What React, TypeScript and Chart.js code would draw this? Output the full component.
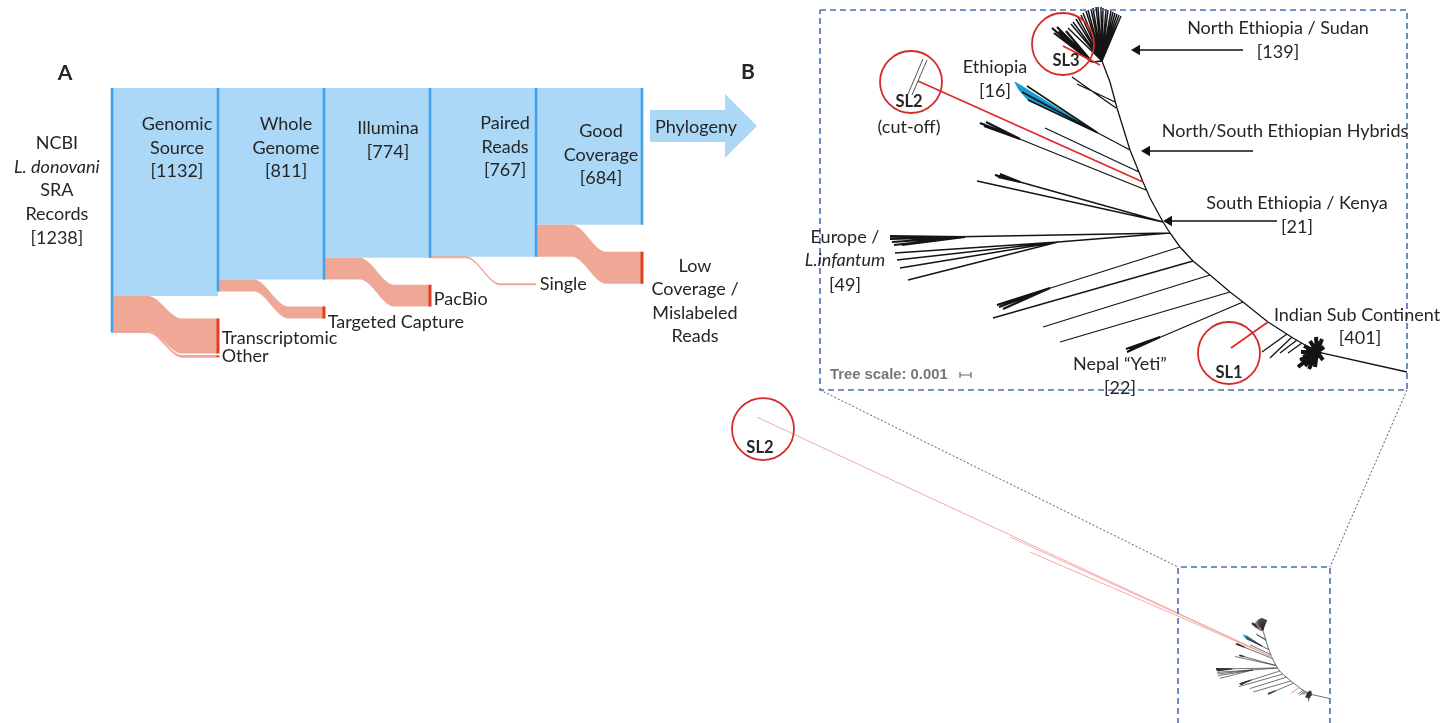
import React, { useEffect, useRef } from 'react';
import Chart from 'chart.js/auto';

const W = 1443;
const H = 723;

// ================= Panel A : record filtering (Sankey) =================
const stageNames: string[][] = [
  ['NCBI', 'L. donovani', 'SRA', 'Records'],
  ['Genomic', 'Source'],
  ['Whole', 'Genome'],
  ['Illumina'],
  ['Paired', 'Reads'],
  ['Good', 'Coverage'],
];
const stageCounts = [1238, 1132, 811, 774, 767, 684];
// band widths as drawn in the figure (records)
const keptBand = [1040, 958, 849, 844, 684];
const lossNames = ['Transcriptomic', 'Other', 'Targeted Capture', 'PacBio', 'Single', 'Low\nCoverage /\nMislabeled\nReads'];
const lossFrom = [0, 0, 1, 2, 3, 4];
const lossBand = [175, 8, 60, 108, 5, 160];

// ================= Panel B : phylogeny (units ~1e-4 subst./site, y up) =================
const trunk = [[-68, 172], [-60, 151], [-53, 125], [-40, 83], [-27, 51], [-20, 35], [-7, 11], [0, 0], [10, -14], [23, -28], [40, -42], [60, -59], [73, -69], [98, -89], [123, -105], [147, -119], [237, -139]];
const nEthNode = [-68, 172];
const nEthTips = [[-102, 205], [-99, 209], [-97, 211], [-94, 214], [-92, 216], [-89, 218], [-87, 220], [-84, 222], [-82, 223], [-79, 224], [-77, 225], [-74, 226], [-72, 226], [-69, 226], [-67, 225], [-64, 224], [-62, 223], [-59, 222], [-57, 221], [-55, 220], [-53, 219], [-51, 218], [-49, 217]];
const sl3Node = [-78, 171];
const sl3Tips = [[-118, 205], [-116, 200], [-113, 206], [-109, 197], [-104, 202], [-111, 202], [-106, 195]];
const sl3Branch = [[-70, 168], [-107, 187]];
const ladder = [[[-54, 125], [-98, 156]], [[-55, 131], [-93, 149]]];
const ethAttach = [-40, 83];
const ethNode = [-72, 100];
const ethBlue = [[-72, 100], [-155, 151], [-151, 143], [-142, 133], [-72, 100]];
const ethTips = [[-143, 147], [-142, 133], [-148, 141]];
const branches = [
  [[-31, 61], [-125, 105]],
  [[-24, 43], [-190, 110]],
  [[-7, 11], [-193, 52]],
  [[-7, 11], [-175, 58]],
  [[0, 0], [-280, -5]],
  [[0, 0], [-112, -9]],
  [[-112, -9], [-275, -20]], [[-112, -9], [-273, -27]], [[-112, -9], [-270, -35]], [[-112, -9], [-262, -47]],
  [[10, -14], [-173, -72]],
  [[23, -28], [-177, -85]],
  [[40, -42], [-127, -94]],
  [[60, -59], [-110, -109]],
  [[73, -69], [-42, -118]],
  [[117, -101], [92, -119]], [[122, -104], [100, -125]], [[127, -107], [110, -120]], [[132, -110], [118, -120]],
];
const tipClusters = [
  { node: [-205, -4], tips: [[-280, -3], [-280, -6], [-278, -9], [-276, -12], [-268, -12]] },
  { node: [-150, 94], tips: [[-190, 110], [-186, 107], [-184, 111]] },
  { node: [-150, 51], tips: [[-175, 58], [-172, 56], [-170, 59]] },
  { node: [-120, -55], tips: [[-171, -74], [-167, -76], [-173, -72]] },
  { node: [-10, -104], tips: [[-43, -119], [-40, -116], [-44, -116]] },
];
const indianNode = [147, -119];
const indianTips = [[130, -127], [128, -134], [135, -133], [140, -108], [146, -104], [152, -106], [134, -113], [131, -119], [139, -136], [153, -127], [143, -130], [150, -113], [133, -124], [137, -128], [142, -111], [148, -108], [154, -114], [136, -118], [145, -134], [151, -121]];
const sl1Branch = [[98, -89], [61, -115]];
const sl2Attach = [-27, 51];
const sl2Cut = [-252, 152];
const sl2Tips = [[-2366, 1140], [-1216, 595], [-1125, 527]];
const cladeSizes = { nEth: 139, eth: 16, sEth: 21, europe: 49, nepal: 22, indian: 401 };

// ================= layout (pixels / frames) =================
const SK = { x0: 112, step: 106, y0: 88, k: 0.2, gap: 135, spacing: 10, flat: 0.34, lineStep: 119 };
const TR = { ox: 1170, oy: 233, k: 1 };
const IN = { ox: 1277.6, oy: 667.96, k: 0.22 };
const stageLabelAt = [[-0.52, 275], [0.613, 180], [1.642, 180], [2.604, 200], [3.708, 175], [4.613, 215]];
const lossLabelShift = [10, 0, 48, 17, 0];
const lowCovLabelAt = [5.5, 890];

const C = {
  blueFill: '#abd8f7', blueLine: '#43a2ea', pink: '#f0a896', pinkLine: '#ee9884', red: '#e0401e',
  ink: '#262626', tree: '#141414', treeRed: '#e5262a', treeBlue: '#1b9ad6', circle: '#d42b2b', box: '#4a70ac',
};

type P = { x: number; y: number };
const NANP = () => ({ x: NaN, y: NaN });
function poly(list: number[][][]): P[] {
  const out: P[] = [];
  list.forEach((ln, i) => {
    if (i) out.push(NANP());
    ln.forEach((p) => out.push({ x: p[0], y: p[1] }));
  });
  return out;
}
const fan = (node: number[], tips: number[][]) => tips.map((t) => [node, t]);

const nodeH = stageCounts.map((_, s) => {
  const inflow = s < keptBand.length ? keptBand[s] : keptBand[keptBand.length - 1];
  return inflow + lossBand.reduce((a, v, i) => a + (lossFrom[i] === s ? v : 0), 0);
});
const lossGeo = lossBand.map((v, i) => {
  const s = lossFrom[i];
  let y0 = keptBand[s];
  let y1 = nodeH[s + 1] + SK.gap;
  for (let j = 0; j < i; j++) if (lossFrom[j] === s) { y0 += lossBand[j]; y1 += lossBand[j] + SK.spacing; }
  return { s, v, y0, y1 };
});
const bandLine = (s: number, a: number, b: number): P[] => [
  { x: s, y: a }, { x: s + SK.flat, y: a }, { x: s + 1 - SK.flat, y: b }, { x: s + 1, y: b },
];

function lineDs(xid: string, yid: string, data: P[], color: string, width: number, order: number, extra: any = {}) {
  return {
    type: 'line', xAxisID: xid, yAxisID: yid, data, borderColor: color, borderWidth: width,
    pointRadius: 0, pointHoverRadius: 0, fill: false, tension: 0, order, spanGaps: false, clip: false, ...extra,
  };
}

function sankeySets(): any[] {
  const sets: any[] = [];
  keptBand.forEach((v, s) => {
    sets.push(lineDs('xs', 'ys', [{ x: s, y: 0 }, { x: s + 1, y: 0 }], C.blueFill, 0, 30, { fill: '+1', backgroundColor: C.blueFill }));
    sets.push(lineDs('xs', 'ys', [{ x: s, y: v }, { x: s + 1, y: v }], C.blueFill, 0, 30));
  });
  lossGeo.forEach((g) => {
    const thin = g.v < 20;
    const ex = { cubicInterpolationMode: 'monotone' };
    sets.push(lineDs('xs', 'ys', bandLine(g.s, g.y0, g.y1), C.pinkLine, thin ? 0.8 : 0, 25, { ...ex, fill: '+1', backgroundColor: C.pink }));
    sets.push(lineDs('xs', 'ys', bandLine(g.s, g.y0 + g.v, g.y1 + g.v), C.pinkLine, thin ? 0.8 : 0, 25, ex));
  });
  sets.push(lineDs('xs', 'ys', poly(nodeH.map((h, s) => [[s, 0], [s, h]])), C.blueLine, 2.6, 20));
  sets.push(lineDs('xs', 'ys', poly(lossGeo.filter((g) => g.v > 6).map((g) => [[g.s + 1, g.y1], [g.s + 1, g.y1 + g.v]])), C.red, 3, 20));
  const arrow = [[5.075, 110], [5.783, 110], [5.783, 30], [6.085, 190], [5.783, 350], [5.783, 270], [5.075, 270], [5.075, 110]];
  sets.push(lineDs('xs', 'ys', poly([arrow]), C.blueFill, 0, 30, { fill: 'shape', backgroundColor: C.blueFill }));
  return sets;
}

function treeSets(xid: string, yid: string, inset: boolean): any[] {
  const w = inset ? { n: 0.7, f: 0.8, t: 1.1, b: 2.0, r: 0.9 } : { n: 1.3, f: 1.5, t: 2.2, b: 4, r: 1.8 };
  const ink = inset ? '#333' : C.tree;
  const sets: any[] = [];
  sets.push(lineDs(xid, yid, poly([ethBlue]), C.treeBlue, 1, 16, { fill: 'shape', backgroundColor: C.treeBlue }));
  const normal = [trunk, ...ladder, [ethAttach, ethNode], [nEthNode, sl3Node], ...branches];
  sets.push(lineDs(xid, yid, poly(normal), ink, w.n, 12));
  sets.push(lineDs(xid, yid, poly([...fan(nEthNode, nEthTips), ...fan(ethNode, ethTips)]), ink, w.f, 12));
  sets.push(lineDs(xid, yid, poly([...fan(sl3Node, sl3Tips), ...tipClusters.flatMap((c) => fan(c.node, c.tips))]), ink, w.t, 11));
  sets.push(lineDs(xid, yid, poly(fan(indianNode, indianTips)), ink, w.b, 11));
  if (inset) {
    sets.push(lineDs(xid, yid, poly(fan(sl2Attach, sl2Tips)), '#f2a0a0', w.r, 10));
    sets.push(lineDs(xid, yid, poly([sl3Branch, sl1Branch]), '#ee8080', w.r, 10));
  } else {
    sets.push(lineDs(xid, yid, poly([[sl2Attach, sl2Cut], sl3Branch, sl1Branch]), C.treeRed, w.r, 10));
  }
  return sets;
}

function annotationSets(): any[] {
  const sets: any[] = [];
  sets.push(lineDs('xt', 'yt', poly([[[-350, 223], [237, 223], [237, -157], [-350, -157], [-350, 223]]]), C.box, 1.6, 8, { borderDash: [6, 4] }));
  sets.push(lineDs('xi', 'yi', poly([[[-452.7, -300], [-452.7, 459], [238, 459], [238, -300]]]), C.box, 1.6, 8, { borderDash: [6, 4] }));
  sets.push(lineDs('xt', 'yt', poly([[[-350, -157], [8, -334]], [[237, -157], [160, -334]]]), '#5a5a5a', 1, 8, { borderDash: [2, 2] }));
  sets.push(lineDs('xt', 'yt', poly([[[-262, 139], [-247, 174]], [[-258, 138], [-243, 173]]]), '#555', 1, 6));
  sets.push(lineDs('xt', 'yt', poly([[[-210, -142], [-199, -142]], [[-210, -139], [-210, -145]], [[-199, -139], [-199, -145]]]), '#666', 1.2, 6));
  sets.push(lineDs('xt', 'yt', poly([[[73, 183], [-36, 183]], [[83, 82], [-26, 82]], [[107, 12], [-4, 12]]]), '#111', 1.5, 5));
  sets.push({
    type: 'scatter', xAxisID: 'xt', yAxisID: 'yt', order: 4, clip: false,
    data: [{ x: -33, y: 183 }, { x: -23, y: 82 }, { x: -1, y: 12 }],
    pointStyle: 'triangle', pointRotation: -90, pointRadius: 6, pointHoverRadius: 6,
    pointBackgroundColor: '#111', pointBorderColor: '#111', pointBorderWidth: 0,
  });
  const circ = (xid: string, yid: string, pts: number[][]) => ({
    type: 'scatter', xAxisID: xid, yAxisID: yid, order: 3, clip: false,
    data: pts.map((p) => ({ x: p[0], y: p[1] })),
    pointStyle: 'circle', pointRadius: 31, pointHoverRadius: 31,
    pointBackgroundColor: 'rgba(0,0,0,0)', pointBorderColor: C.circle, pointBorderWidth: 1.8,
  });
  sets.push(circ('xt', 'yt', [[-107, 189], [-259, 151], [59, -120]]));
  sets.push(circ('xi', 'yi', [[-2339, 1086]]));
  return sets;
}

type Lbl = { t: string; f: 's' | 't' | 'i'; x: number; y: number; font?: string; color?: string; align?: CanvasTextAlign };
const F = '18px Lato';
const FI = 'italic 18px Lato';
const FB = 'bold 16.5px Lato';

function buildLabels(): Lbl[] {
  const L: Lbl[] = [];
  L.push({ t: 'A', f: 's', x: -0.443, y: -75, font: 'bold 21px Lato' });
  stageNames.forEach((names, s) => {
    const [x, y] = stageLabelAt[s];
    const lines = [...names, `[${stageCounts[s]}]`];
    lines.forEach((t, i) => L.push({ t, f: 's', x, y: y + i * SK.lineStep, font: s === 0 && i === 1 ? FI : F }));
  });
  lossGeo.forEach((g, i) => {
    if (i === lossGeo.length - 1) {
      lossNames[i].split('\n').forEach((t, j) => L.push({ t, f: 's', x: lowCovLabelAt[0], y: lowCovLabelAt[1] + j * 117.5, font: F }));
    } else {
      L.push({ t: lossNames[i], f: 's', x: g.s + 1 + 0.035, y: g.y1 + g.v / 2 + lossLabelShift[i], font: F, align: 'left' });
    }
  });
  L.push({ t: 'Phylogeny', f: 's', x: 5.51, y: 195, font: F });

  L.push({ t: 'B', f: 't', x: -422, y: 161, font: 'bold 21px Lato' });
  const tl: [string, number, number, string?][] = [
    ['North Ethiopia / Sudan', 108, 205], [`[${cladeSizes.nEth}]`, 108, 181],
    ['Ethiopia', -175, 166], [`[${cladeSizes.eth}]`, -175, 142],
    ['North/South Ethiopian Hybrids', 115, 102],
    ['South Ethiopia / Kenya', 127, 30], [`[${cladeSizes.sEth}]`, 127, 6],
    ['Europe /', -325, -4], ['L.infantum', -325, -27, FI], [`[${cladeSizes.europe}]`, -325, -52],
    ['Nepal \u201CYeti\u201D', -50, -131], [`[${cladeSizes.nepal}]`, -50, -155],
    ['Indian Sub Continent', 187, -82], [`[${cladeSizes.indian}]`, 190, -105],
    ['SL3', -104, 172, FB], ['SL2', -261, 131, FB], ['(cut-off)', -261, 106], ['SL1', 59, -140, FB],
  ];
  tl.forEach(([t, x, y, font]) => L.push({ t, f: 't', x, y, font: font || F }));
  L.push({ t: 'Tree scale: 0.001', f: 't', x: -340, y: -142, font: 'bold 14.8px "Liberation Sans"', color: '#777', align: 'left' });
  L.push({ t: 'SL2', f: 'i', x: -2353, y: 1000, font: FB });
  return L;
}
const labels = buildLabels();
const frames: Record<string, [string, string]> = { s: ['xs', 'ys'], t: ['xt', 'yt'], i: ['xi', 'yi'] };

const textPlugin = {
  id: 'figureText',
  afterDatasetsDraw(chart: any) {
    const ctx = chart.ctx as CanvasRenderingContext2D;
    labels.forEach((l) => {
      const [xid, yid] = frames[l.f];
      const px = chart.scales[xid].getPixelForValue(l.x);
      const py = chart.scales[yid].getPixelForValue(l.y);
      ctx.save();
      ctx.font = l.font || F;
      ctx.fillStyle = l.color || C.ink;
      ctx.textAlign = l.align || 'center';
      ctx.textBaseline = 'middle';
      ctx.fillText(l.t, px, py);
      ctx.restore();
    });
  },
};

const hidden = (min: number, max: number, extra: any = {}) => ({
  type: 'linear', display: false, bounds: 'data', offset: false, beginAtZero: false, min, max, ...extra,
});

export default function App() {
  const ref = useRef<HTMLCanvasElement>(null);
  useEffect(() => {
    document.body.style.margin = '0';
    const chart = new Chart(ref.current as HTMLCanvasElement, {
      type: 'scatter',
      data: { datasets: [...sankeySets(), ...treeSets('xt', 'yt', false), ...treeSets('xi', 'yi', true), ...annotationSets()] as any },
      options: {
        responsive: false,
        animation: false,
        devicePixelRatio: 1,
        events: [],
        layout: { padding: 0, autoPadding: false },
        plugins: { legend: { display: false }, tooltip: { enabled: false }, title: { display: false } },
        scales: {
          xs: hidden(-SK.x0 / SK.step, (W - SK.x0) / SK.step),
          ys: hidden(-SK.y0 / SK.k, (H - SK.y0) / SK.k, { reverse: true }),
          xt: hidden(-TR.ox / TR.k, (W - TR.ox) / TR.k),
          yt: hidden((TR.oy - H) / TR.k, TR.oy / TR.k),
          xi: hidden(-IN.ox / IN.k, (W - IN.ox) / IN.k),
          yi: hidden((IN.oy - H) / IN.k, IN.oy / IN.k),
        } as any,
      } as any,
      plugins: [textPlugin],
    } as any);
    let alive = true;
    const fonts = ['18px Lato', 'italic 18px Lato', 'bold 16.5px Lato', 'bold 14.8px "Liberation Sans"'];
    Promise.all(fonts.map((f) => (document as any).fonts.load(f)))
      .then(() => { if (alive) chart.update(); })
      .catch(() => {});
    return () => { alive = false; chart.destroy(); };
  }, []);
  return (
    <div style={{ position: 'absolute', left: 0, top: 0, width: W, height: H, background: '#fff' }}>
      <canvas ref={ref} width={W} height={H} style={{ width: W, height: H, display: 'block' }} />
    </div>
  );
}
